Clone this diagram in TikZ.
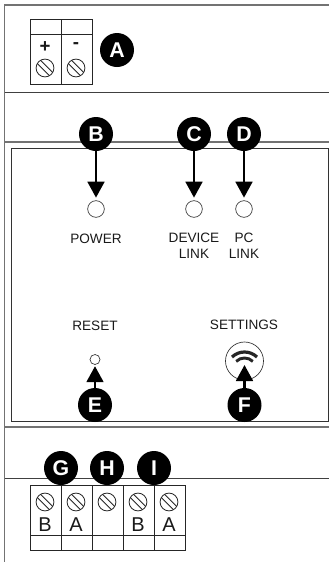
\documentclass[tikz,border=0pt]{standalone}
\usepackage{fontspec}
\setmainfont{Liberation Sans}
\usetikzlibrary{arrows.meta,calc}
\tikzset{
  badge/.style={circle,fill=black,text=white,inner sep=0pt,minimum size=25.5pt,font=\fontsize{16}{16}\selectfont\bfseries},
  led/.style={circle,draw=black!80,line width=0.5pt,fill=white,inner sep=0pt,minimum size=#1},
  lbl/.style={font=\fontsize{10.2}{12}\selectfont,text=black!90,align=center,inner sep=0pt},
  pin/.style={font=\fontsize{15}{15}\selectfont,text=black!90,inner sep=0pt},
  sign/.style={font=\fontsize{14}{14}\selectfont\bfseries,text=black!90,inner sep=0pt},
  pointer/.style={line width=2.1pt,-{Triangle[length=12pt,width=12.5pt]}},
  wall/.style={black!55,line width=1.1pt},
  thinwall/.style={black!75,line width=0.6pt},
  box/.style={black!85,line width=0.6pt},
  pics/screw/.style={code={
    \draw[black!85,line width=0.6pt] (0,0) circle (6.7pt);
    \draw[black!85,line width=0.6pt] (-5.7pt,3.3pt) -- (3.3pt,-5.7pt) (-3.3pt,5.7pt) -- (5.7pt,-3.3pt);
  }}
}
\begin{document}
\begin{tikzpicture}[x=0.75pt,y=-0.75pt]
  \useasboundingbox (0,0) rectangle (329,562);
  % housing
  \draw[wall] (329,5) -- (4.5,5) -- (4.5,562);
  \draw[thinwall] (4.5,92) -- (329,92);
  \draw[wall] (4.5,142) -- (329,142);
  \draw[wall] (4.5,427) -- (329,427);
  \draw[thinwall] (4.5,478) -- (329,478);
  \draw[black!80,line width=0.7pt] (11,148) rectangle (328,421);
  % top terminal
  \draw[box] (30,19) rectangle (92,84);
  \draw[box] (61,19) -- (61,84) (30,34) -- (92,34);
  \node[sign] (plus) at (45,47) {+};
  \node[sign] (minus) at (76,46) {-};
  \foreach \x in {45,76} \pic at (\x,68) {screw};
  % bottom terminal
  \draw[box] (30,485) rectangle (185,550);
  \draw[box] (30,535) -- (185,535);
  \foreach \x in {61,92,123,154} \draw[box] (\x,485) -- (\x,550);
  \foreach \x in {45,76,107,138,169} \pic at (\x,502) {screw};
  \node[pin] (pinB) at (45,525) {B};
  \node[pin] (pinA) at (76,525) {A};
  \node[pin] (pinBB) at (138,525) {B};
  \node[pin] (pinAA) at (169,525) {A};
  % lamps and buttons
  \node[led=12.5pt] (power) at (96,209) {};
  \node[led=12.5pt] (device) at (194,209) {};
  \node[led=12.5pt] (pc) at (244,209) {};
  \node[led=7.5pt] (reset) at (95,359.5) {};
  \node[led=28.5pt] (settings) at (244.5,361) {};
  % wifi symbol
  \coordinate (wifi) at (244.5,370);
  \draw[black!85,line width=2.4pt] ($(wifi)+(-134:18)$) arc[start angle=-134,end angle=-46,radius=18];
  \draw[black!85,line width=2.2pt] ($(wifi)+(-134:12)$) arc[start angle=-134,end angle=-46,radius=12];
  % labels
  \node[lbl] (powerlbl) at (96,238.5) {POWER};
  \node[lbl] (devicelbl) at (194,246) {DEVICE\\LINK};
  \node[lbl] (pclbl) at (244,246) {PC\\LINK};
  \node[lbl] (resetlbl) at (95,326) {RESET};
  \node[lbl] (settingslbl) at (244,325) {SETTINGS};
  % arrows first, the badges cover their start
  \coordinate (bstart) at (96,134);
  \coordinate (cstart) at (194,134);
  \coordinate (dstart) at (244,134);
  \coordinate (estart) at (95,405);
  \coordinate (fstart) at (244.5,405);
  \draw[pointer,shorten >=2pt] (bstart) -- (power);
  \draw[pointer,shorten >=2pt] (cstart) -- (device);
  \draw[pointer,shorten >=2pt] (dstart) -- (pc);
  \draw[pointer,shorten >=1pt] (estart) -- (reset);
  \draw[pointer] (fstart) -- ($(settings)+(0,4)$);
  % badges
  \node[badge] (A) at (117,50) {A};
  \node[badge] (B) at (bstart) {B};
  \node[badge] (C) at (cstart) {C};
  \node[badge] (D) at (dstart) {D};
  \node[badge] (E) at (estart) {E};
  \node[badge] (F) at (fstart) {F};
  \node[badge] (G) at (61,468) {G};
  \node[badge] (H) at (107,468) {H};
  \node[badge] (I) at (154,468) {I};
\end{tikzpicture}
\end{document}
